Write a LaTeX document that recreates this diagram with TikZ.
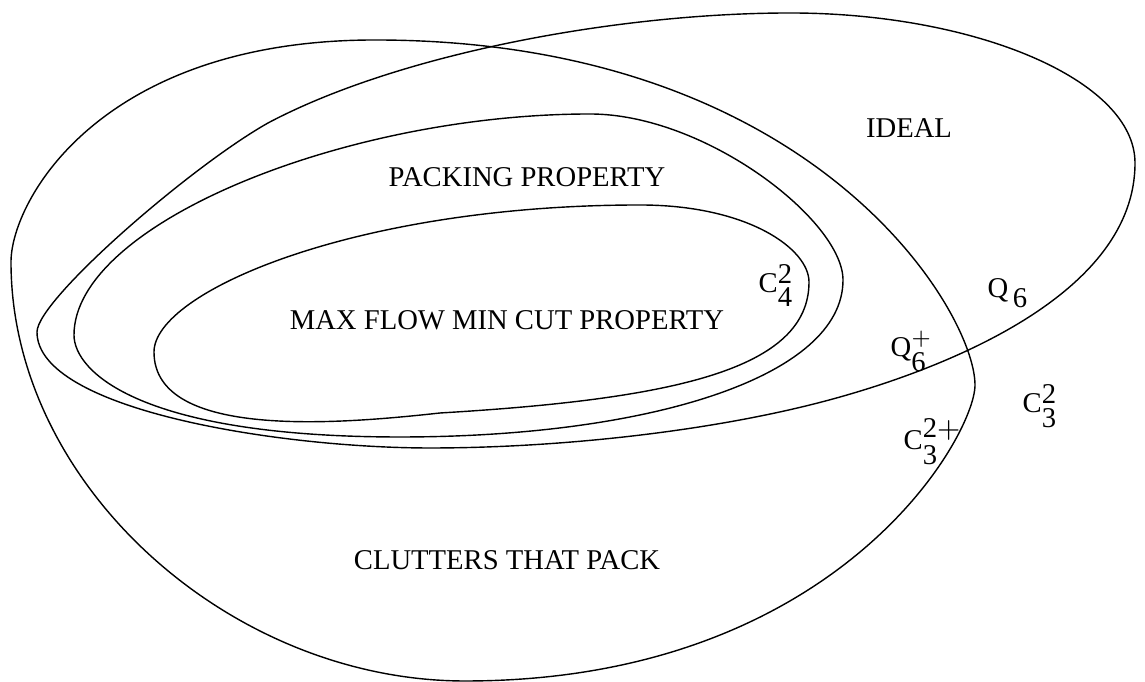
\documentclass[tikz,border=0pt]{standalone}
\usepackage{fontspec}
\setmainfont{Liberation Serif}
\setmathrm{Liberation Serif}
\usepackage{amsmath}

\tikzset{
	region/.style={thin},
	setname/.style={inner sep=0pt,anchor=base,font=\fontsize{8.15}{10}\selectfont},
	elt/.style={setname,anchor=base west}
}
\newcommand{\cl}[3]{$\mathrm{#1}^{\textstyle\mathrm{#2}}_{\textstyle\mathrm{#3}}$}

\begin{document}
\begin{tikzpicture}[x=0.1mm,y=-0.1mm]
	\useasboundingbox (0,0) rectangle (1145,682);
	% clutters that pack
	\draw[region] (375,40) .. controls (815,40) and (975,312) .. (975,385)
		.. controls (975,436) and (838,681) .. (465,681)
		.. controls (230,681) and (11,485) .. (11,262)
		.. controls (11,201) and (100,40) .. cycle;
	% ideal
	\draw[region] (790,13) .. controls (975,13) and (1135,80) .. (1135,163)
		.. controls (1135,293) and (950,366) .. (840,397)
		.. controls (720,431) and (560,448) .. (430,448)
		.. controls (280,448) and (37,410) .. (37,332)
		.. controls (37,300) and (190,167) .. (268,123)
		.. controls (400,53) and (620,13) .. cycle;
	% packing property
	\draw[region] (590,114) .. controls (706,114) and (843,221) .. (843,280)
		.. controls (843,377) and (649,437) .. (400,437)
		.. controls (141,437) and (74,372) .. (74,335)
		.. controls (74,224) and (345,114) .. cycle;
	% max flow min cut
	\draw[region] (640,205) .. controls (748,205) and (809,249) .. (809,282)
		.. controls (809,369) and (676,399) .. (440,413)
		.. controls (340,424) and (154,440) .. (154,352)
		.. controls (154,292) and (355,205) .. cycle;

	\node[setname] (ideal) at (909,138) {IDEAL};
	\node[setname] (pack) at (527,187) {PACKING PROPERTY};
	\node[setname] (mfmc) at (507,330) {MAX FLOW MIN CUT PROPERTY};
	\node[setname] (clut) at (507,570) {CLUTTERS THAT PACK};

	\node[elt] (c42) at (758,293) {\cl{C}{2}{4}};
	\node[elt] (q6) at (987,298) {$\mathrm{Q}_{\,\textstyle\mathrm{6}}$};
	\node[elt] (q6p) at (890,357) {$\mathrm{Q}^{+}_{\textstyle\mathrm{6}}$};
	\node[elt] (c32) at (1022,413) {\cl{C}{2}{3}};
	\node[elt] (c32p) at (903,450) {\cl{C}{2+}{3}};
\end{tikzpicture}
\end{document}
